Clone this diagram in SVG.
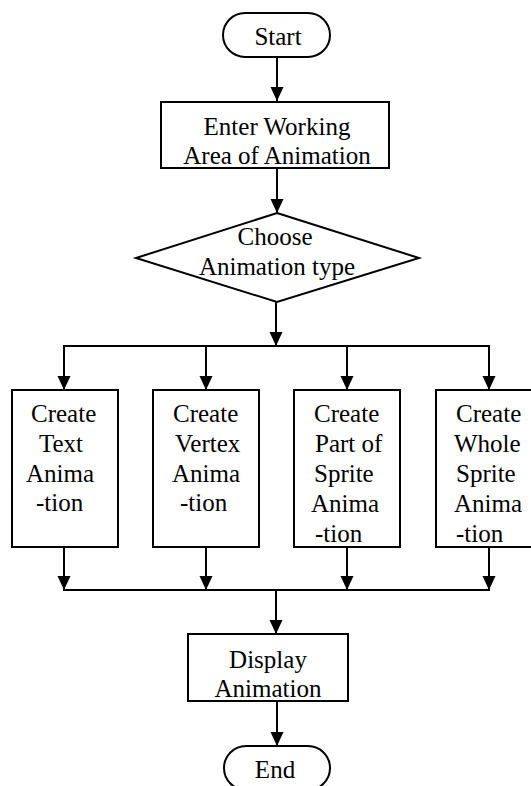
<svg xmlns="http://www.w3.org/2000/svg" width="531" height="786" viewBox="0 0 531 786">
<style>
  .box { fill: #ffffff; stroke: #000000; stroke-width: 2; }
  .line { fill: none; stroke: #000000; stroke-width: 2; }
  text { font-family: "Liberation Serif", "Times New Roman", serif; font-size: 25px; fill: #000000; }
  .c { text-anchor: middle; }
</style>
<defs>
  <marker id="arrow" markerUnits="userSpaceOnUse" markerWidth="14" markerHeight="14" viewBox="0 0 14 14" refX="14" refY="7" orient="auto">
    <path d="M0,0.5 L14,7 L0,13.5 z" fill="#000000"/>
  </marker>
</defs>
<rect width="531" height="786" fill="#ffffff"/>
<g id="connectors">
  <line class="line" x1="277" y1="57" x2="277" y2="101" marker-end="url(#arrow)"/>
  <line class="line" x1="277" y1="168" x2="277" y2="213" marker-end="url(#arrow)"/>
  <line class="line" x1="276" y1="302" x2="276" y2="346" marker-end="url(#arrow)"/>
  <line class="line" x1="63" y1="346" x2="490" y2="346"/>
  <line class="line" x1="64" y1="346" x2="64" y2="390" marker-end="url(#arrow)"/>
  <line class="line" x1="206" y1="346" x2="206" y2="390" marker-end="url(#arrow)"/>
  <line class="line" x1="347" y1="346" x2="347" y2="390" marker-end="url(#arrow)"/>
  <line class="line" x1="489" y1="346" x2="489" y2="390" marker-end="url(#arrow)"/>
  <line class="line" x1="64" y1="547" x2="64" y2="590" marker-end="url(#arrow)"/>
  <line class="line" x1="206" y1="547" x2="206" y2="590" marker-end="url(#arrow)"/>
  <line class="line" x1="347" y1="547" x2="347" y2="590" marker-end="url(#arrow)"/>
  <line class="line" x1="489" y1="547" x2="489" y2="590" marker-end="url(#arrow)"/>
  <line class="line" x1="63" y1="590" x2="490" y2="590"/>
  <line class="line" x1="276" y1="590" x2="276" y2="634" marker-end="url(#arrow)"/>
  <line class="line" x1="277" y1="701" x2="277" y2="746" marker-end="url(#arrow)"/>
</g>
<g id="start">
  <rect class="box" x="223" y="13" width="107" height="44" rx="22" ry="22"/>
  <text class="c" x="278" y="45">Start</text>
</g>
<g id="enter">
  <rect class="box" x="161" y="102" width="228" height="66"/>
  <text class="c" x="277" y="135">Enter Working</text>
  <text class="c" x="277" y="164">Area of Animation</text>
</g>
<g id="choose">
  <polygon class="box" points="277,213 419,258 277,302 136,258"/>
  <text class="c" x="275" y="245">Choose</text>
  <text class="c" x="277" y="275">Animation type</text>
</g>
<g id="text-anim">
  <rect class="box" x="12" y="390" width="106" height="157"/>
  <text x="31" y="422">Create</text>
  <text x="39" y="452">Text</text>
  <text x="26" y="482">Anima</text>
  <text x="36" y="511">-tion</text>
</g>
<g id="vertex-anim">
  <rect class="box" x="153" y="390" width="106" height="157"/>
  <text x="173" y="422">Create</text>
  <text x="175" y="452">Vertex</text>
  <text x="172" y="482">Anima</text>
  <text x="180" y="511">-tion</text>
</g>
<g id="part-sprite-anim">
  <rect class="box" x="294" y="390" width="106" height="157"/>
  <text x="314" y="422">Create</text>
  <text x="315" y="452">Part of</text>
  <text x="314" y="482">Sprite</text>
  <text x="311" y="512">Anima</text>
  <text x="315" y="542">-tion</text>
</g>
<g id="whole-sprite-anim">
  <rect class="box" x="436" y="390" width="106" height="157"/>
  <text x="456" y="422">Create</text>
  <text x="454" y="452">Whole</text>
  <text x="456" y="482">Sprite</text>
  <text x="454" y="512">Anima</text>
  <text x="456" y="542">-tion</text>
</g>
<g id="display">
  <rect class="box" x="188" y="634" width="160" height="67"/>
  <text class="c" x="268" y="668">Display</text>
  <text class="c" x="268" y="697">Animation</text>
</g>
<g id="end">
  <rect class="box" x="224" y="746" width="106" height="44" rx="22" ry="22"/>
  <text class="c" x="275" y="778">End</text>
</g>
</svg>
